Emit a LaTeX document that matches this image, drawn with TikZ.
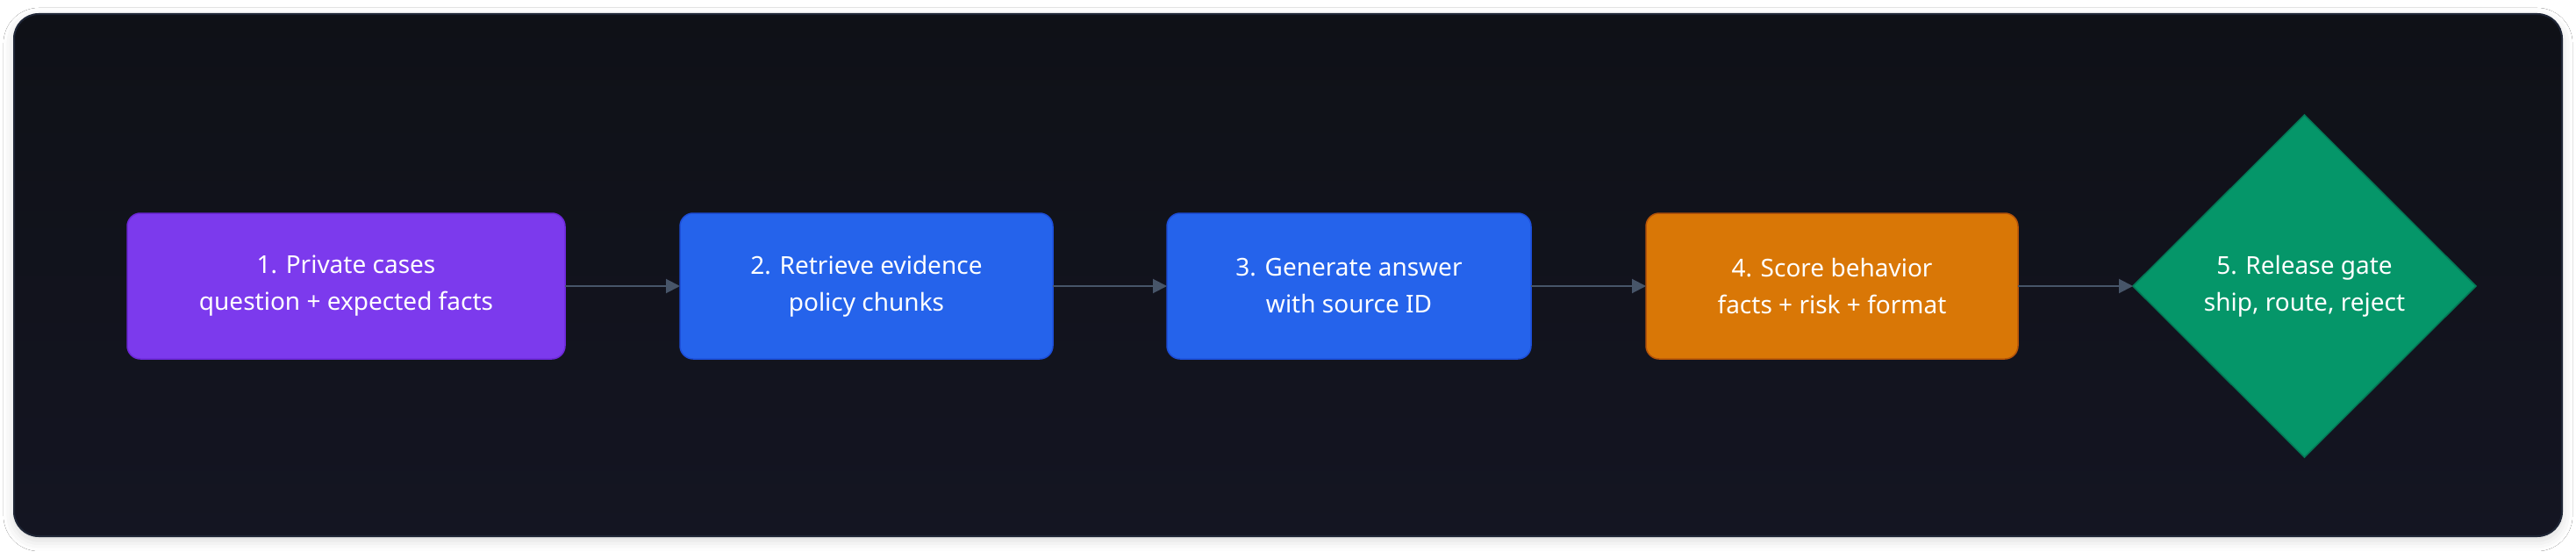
\documentclass[tikz,border=0pt]{standalone}
\usepackage{fontspec}
\setmainfont{Noto Sans}
\usetikzlibrary{positioning,shapes.geometric,arrows.meta,shadows.blur}

\definecolor{panelTop}{HTML}{0F1117}
\definecolor{panelBot}{HTML}{141522}
\definecolor{panelEdge}{HTML}{1F2636}
\definecolor{violetFill}{HTML}{7C3AED}
\definecolor{violetEdge}{HTML}{6D28D9}
\definecolor{blueFill}{HTML}{2563EB}
\definecolor{blueEdge}{HTML}{1D4ED8}
\definecolor{amberFill}{HTML}{D97706}
\definecolor{amberEdge}{HTML}{B45309}
\definecolor{greenFill}{HTML}{059669}
\definecolor{greenEdge}{HTML}{047857}
\definecolor{flowGray}{HTML}{475569}

\tikzset{
    stage/.style={rectangle, rounded corners=7.5pt, minimum height=83pt,
        inner sep=0pt, outer sep=0pt, line width=0.75pt, text=white,
        align=center, font=\fontsize{14}{21}\selectfont},
    gate/.style={diamond, minimum width=195.5pt, minimum height=195pt,
        inner sep=0pt, outer sep=0pt, line width=0.75pt, text=white,
        align=center, font=\fontsize{14}{21}\selectfont},
    flow/.style={draw=flowGray, line width=1pt,
        -{Triangle[length=8pt,width=8pt]}}
}

\begin{document}
\begin{tikzpicture}
    \useasboundingbox (0,0) rectangle (1468pt,314pt);
    \fill[white] (0,0) rectangle (1468pt,314pt);

    % Panel
    \draw[rounded corners=14pt, draw=panelEdge, line width=1pt,
        top color=panelTop, bottom color=panelBot,
        blur shadow={shadow xshift=0pt, shadow yshift=-2.5pt,
            shadow blur radius=6pt, shadow opacity=15}]
        (8pt,8.5pt) rectangle (1460pt,306pt);

    % Stages
    \node[stage, fill=violetFill, draw=violetEdge, minimum width=249.5pt]
        (cases) at (197.25pt,151pt) {1. Private cases\\question + expected facts};
    \node[stage, fill=blueFill, draw=blueEdge, minimum width=212.5pt,
        right=65.5pt of cases] (retrieve) {2. Retrieve evidence\\policy chunks};
    \node[stage, fill=blueFill, draw=blueEdge, minimum width=207.5pt,
        right=65pt of retrieve] (answer) {3. Generate answer\\with source ID};
    \node[stage, fill=amberFill, draw=amberEdge, minimum width=212pt,
        right=65.5pt of answer] (score) {4. Score behavior\\facts + risk + format};
    \node[gate, fill=greenFill, draw=greenEdge,
        right=65.5pt of score] (release) {5. Release gate\\ship, route, reject};

    % Connectors
    \foreach \from/\to in {cases/retrieve, retrieve/answer, answer/score, score/release} {
        \draw[flow] (\from) -- (\to);
    }
\end{tikzpicture}
\end{document}
